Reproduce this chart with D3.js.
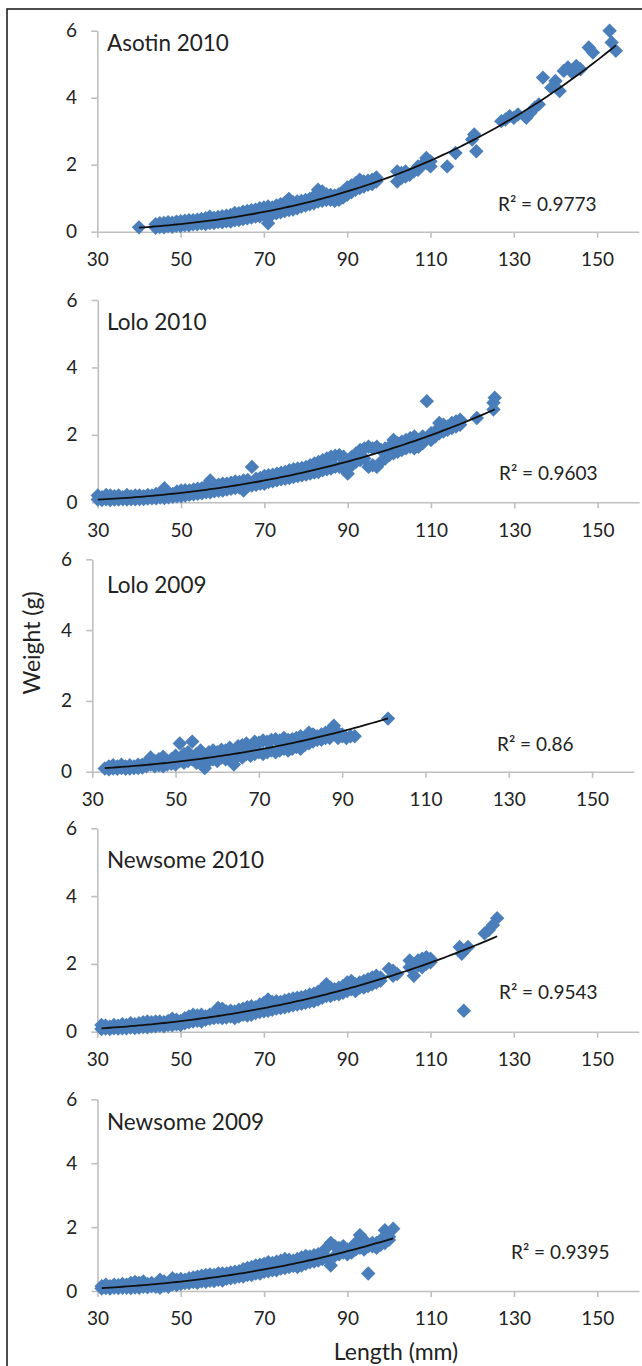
<!DOCTYPE html>
<html>
<head>
<meta charset="utf-8">
<script src="https://cdn.jsdelivr.net/npm/d3@7"></script>
<style>
  body { margin: 0; background: #fff; }
  svg { display: block; font-family: Lato, "Open Sans", sans-serif; }
  .axis path, .axis line { stroke: #bfbfbf; stroke-width: 1.6; }
  .axis text { font-size: 19px; fill: #222; font-family: Lato, sans-serif; }
</style>
</head>
<body>
<svg width="642" height="1366"></svg>
<script>
// tick labels
var xTicks = [30, 50, 70, 90, 110, 130, 150];
var yTicks = [0, 2, 4, 6];

// panel names and R squared labels
var siteNames = ["Asotin 2010", "Lolo 2010", "Lolo 2009", "Newsome 2010", "Newsome 2009"];
var r2Labels = ["0.9773", "0.9603", "0.86", "0.9543", "0.9395"];

// [length (mm), weight (g)]
var asotin2010 = [[40,0.13],
  [44,0.12],[44,0.22],[45,0.14],[45,0.25],[46,0.13],[46,0.26],[47,0.16],[47,0.28],[48,0.15],[48,0.27],
  [49,0.18],[49,0.3],[50,0.17],[50,0.31],[51,0.2],[51,0.33],[52,0.19],[52,0.34],[53,0.22],[53,0.34],
  [54,0.22],[54,0.36],[55,0.24],[55,0.38],[56,0.23],[56,0.4],[57,0.26],[57,0.45],[58,0.26],[58,0.42],
  [59,0.29],[59,0.44],[60,0.28],[60,0.46],[61,0.31],[61,0.48],[62,0.3],[62,0.5],[63,0.34],[63,0.56],
  [64,0.35],[64,0.55],[65,0.38],[65,0.6],[66,0.4],[66,0.62],[67,0.42],[67,0.64],[68,0.45],[68,0.66],
  [69,0.46],[69,0.7],[70,0.5],[70,0.72],[71,0.25],[71,0.55],[71,0.75],[72,0.52],[72,0.72],[73,0.55],[73,0.78],
  [74,0.58],[74,0.82],[75,0.62],[75,0.86],[76,0.65],[76,0.98],[77,0.66],[77,0.88],[78,0.7],[78,0.9],
  [79,0.75],[79,0.92],[80,0.78],[80,0.95],[81,0.82],[81,0.98],[82,0.85],[82,1.05],[83,0.9],[83,1.25],
  [84,0.92],[84,1.2],[85,0.95],[85,1.12],[86,0.95],[86,1.1],[87,0.92],[87,1.08],[88,0.95],[88,1.12],
  [89,1.02],[89,1.2],[90,1.1],[90,1.32],[91,1.18],[91,1.38],[92,1.25],[92,1.45],[93,1.3],[93,1.55],
  [94,1.35],[94,1.5],[95,1.4],[95,1.52],[96,1.42],[96,1.55],[97,1.5],[97,1.62],
  [102,1.5],[102,1.8],[103,1.6],[103,1.75],[104,1.65],[104,1.8],[105,1.7],[106,1.8],[107,1.85],[107,1.95],
  [108,2.0],[109,2.2],[109,2.05],[110,1.95],[110,2.1],[114,1.95],[116,2.35],[120,2.75],[120.5,2.9],[121,2.4],
  [127,3.3],[128,3.35],[129,3.45],[130,3.4],[131,3.5],[133,3.4],[134,3.55],[135,3.7],[136,3.8],[137,4.6],
  [139,4.3],[140,4.5],[141,4.2],[142,4.8],[143,4.9],[144,4.75],[145,4.95],[146,4.85],[148,5.5],[149,5.35],
  [153,6.0],[153.5,5.65],[154.5,5.4]];

var lolo2010 = [
  [30,0.08],[30,0.2],[31,0.07],[31,0.15],[32,0.09],[32,0.22],[33,0.07],[33,0.2],[34,0.08],[34,0.18],
  [35,0.08],[35,0.2],[36,0.09],[36,0.15],[37,0.08],[37,0.22],[38,0.09],[38,0.18],[39,0.09],[39,0.2],
  [40,0.1],[40,0.2],[41,0.1],[41,0.18],[42,0.11],[42,0.22],[43,0.12],[43,0.2],[44,0.12],[44,0.25],
  [45,0.14],[45,0.22],[46,0.13],[46,0.42],[47,0.15],[47,0.28],[48,0.16],[48,0.25],[49,0.18],[49,0.32],
  [50,0.18],[50,0.35],[51,0.2],[51,0.36],[52,0.22],[52,0.35],[53,0.24],[53,0.38],[54,0.25],[54,0.4],
  [55,0.27],[55,0.42],[56,0.3],[56,0.48],[57,0.3],[57,0.65],[58,0.33],[58,0.5],[59,0.34],[59,0.52],
  [60,0.35],[60,0.55],[61,0.38],[61,0.55],[62,0.4],[62,0.58],[63,0.42],[63,0.62],[64,0.44],[64,0.6],
  [65,0.35],[65,0.65],[66,0.48],[66,0.66],[67,0.5],[67,1.05],[68,0.52],[68,0.7],[69,0.55],[69,0.72],
  [70,0.55],[70,0.78],[71,0.6],[71,0.8],[72,0.62],[72,0.82],[73,0.65],[73,0.85],[74,0.68],[74,0.88],
  [75,0.7],[75,0.9],[76,0.72],[76,0.95],[77,0.75],[77,0.98],[78,0.78],[78,1.0],[79,0.8],[79,1.02],
  [80,0.82],[80,1.05],[81,0.85],[81,1.1],[82,0.88],[82,1.15],[83,0.9],[83,1.2],[84,0.95],[84,1.25],
  [85,0.98],[85,1.3],[86,1.0],[86,1.35],[87,1.05],[87,1.38],[88,1.05],[88,1.4],[89,1.0],[89,1.35],
  [90,0.85],[90,1.2],[91,1.1],[91,1.35],[92,1.2],[92,1.45],[93,1.25],[93,1.55],[94,1.3],[94,1.6],
  [95,1.05],[95,1.65],[96,1.1],[96,1.6],[97,1.05],[97,1.65],[98,1.2],[98,1.55],[99,1.3],[99,1.6],
  [100,1.4],[100,1.65],[101,1.45],[101,1.85],[102,1.5],[102,1.75],[103,1.55],[103,1.8],[104,1.6],[104,1.85],
  [105,1.65],[105,1.9],[106,1.6],[106,1.95],[107,1.65],[107,1.85],[108,1.75],[108,1.95],[109,3.0],[109,1.9],
  [110,1.85],[110,2.05],[111,1.95],[111,2.1],[112,2.05],[112,2.35],[113,2.1],[113,2.3],[114,2.15],[114,2.25],
  [115,2.2],[115,2.35],[116,2.25],[116,2.4],[117,2.3],[117,2.45],[121,2.5],[125,2.75],[125,2.95],[125.3,3.1]];

var lolo2009 = [
  [33,0.09],[34,0.07],[34,0.15],[35,0.09],[35,0.18],[36,0.08],[36,0.15],[37,0.1],[37,0.2],[38,0.08],[38,0.15],
  [39,0.09],[39,0.18],[40,0.1],[40,0.15],[41,0.1],[41,0.2],[42,0.12],[42,0.2],[43,0.15],[43,0.25],
  [44,0.2],[44,0.4],[45,0.15],[45,0.3],[46,0.18],[46,0.35],[47,0.15],[47,0.42],[48,0.2],[48,0.3],
  [49,0.22],[49,0.35],[50,0.2],[50,0.45],[51,0.3],[51,0.8],[52,0.25],[52,0.5],[53,0.3],[53,0.55],
  [54,0.35],[54,0.85],[55,0.25],[55,0.5],[56,0.3],[56,0.6],[57,0.1],[57,0.4],[58,0.3],[58,0.55],
  [59,0.35],[59,0.6],[60,0.3],[60,0.55],[61,0.4],[61,0.62],[62,0.35],[62,0.6],[63,0.4],[63,0.68],
  [64,0.2],[64,0.55],[65,0.45],[65,0.72],[66,0.4],[66,0.75],[67,0.5],[67,0.8],[68,0.45],[68,0.72],
  [69,0.5],[69,0.85],[70,0.55],[70,0.82],[71,0.5],[71,0.88],[72,0.55],[72,0.85],[73,0.6],[73,0.9],
  [74,0.55],[74,0.92],[75,0.6],[75,0.88],[76,0.65],[76,0.95],[77,0.6],[77,0.9],[78,0.65],[78,0.92],
  [79,0.7],[79,0.95],[80,0.65],[80,1.0],[81,0.75],[81,0.95],[82,0.8],[82,1.1],[83,0.85],[83,1.05],
  [84,0.9],[84,1.0],[85,0.9],[85,1.05],[86,0.95],[86,1.1],[87,0.95],[87,1.15],[88,1.2],[88,1.3],
  [89,0.95],[89,1.1],[90,1.0],[90,1.05],[91,0.95],[92,1.0],[93,1.0],[101,1.5]];

var newsome2010 = [
  [31,0.08],[31,0.2],[32,0.09],[32,0.18],[33,0.08],[33,0.15],[34,0.1],[34,0.2],[35,0.09],[35,0.18],
  [36,0.1],[36,0.22],[37,0.1],[37,0.2],[38,0.12],[38,0.25],[39,0.11],[39,0.22],[40,0.12],[40,0.25],
  [41,0.14],[41,0.28],[42,0.13],[42,0.3],[43,0.15],[43,0.28],[44,0.16],[44,0.3],[45,0.18],[45,0.3],
  [46,0.16],[46,0.28],[47,0.2],[47,0.32],[48,0.19],[48,0.38],[49,0.22],[49,0.35],[50,0.2],[50,0.32],
  [51,0.25],[51,0.4],[52,0.28],[52,0.45],[53,0.3],[53,0.5],[54,0.32],[54,0.48],[55,0.3],[55,0.5],
  [56,0.35],[56,0.45],[57,0.38],[57,0.5],[58,0.4],[58,0.55],[59,0.42],[59,0.7],[60,0.4],[60,0.68],
  [61,0.42],[61,0.6],[62,0.45],[62,0.62],[63,0.4],[63,0.6],[64,0.45],[64,0.65],[65,0.5],[65,0.68],
  [66,0.48],[66,0.72],[67,0.5],[67,0.75],[68,0.55],[68,0.72],[69,0.58],[69,0.8],[70,0.6],[70,0.85],
  [71,0.62],[71,0.95],[72,0.65],[72,0.88],[73,0.68],[73,0.9],[74,0.7],[74,0.88],[75,0.72],[75,0.92],
  [76,0.75],[76,0.95],[77,0.78],[77,0.98],[78,0.8],[78,1.0],[79,0.82],[79,1.02],[80,0.85],[80,1.05],
  [81,0.88],[81,1.1],[82,0.9],[82,1.12],[83,0.95],[83,1.18],[84,1.0],[84,1.25],[85,1.05],[85,1.4],
  [86,1.05],[86,1.3],[87,1.1],[87,1.25],[88,1.1],[88,1.3],[89,1.15],[89,1.35],[90,1.2],[90,1.45],
  [91,1.25],[91,1.5],[92,1.2],[92,1.4],[93,1.3],[93,1.45],[94,1.3],[94,1.5],[95,1.35],[95,1.55],
  [96,1.4],[96,1.6],[97,1.45],[97,1.65],[98,1.5],[98,1.6],[100,1.85],[101,1.65],[101,1.8],[102,1.7],
  [105,1.9],[105,2.1],[106,1.65],[106,2.0],[107,1.95],[107,2.1],[108,1.9],[108,2.15],[109,2.0],[109,2.2],
  [110,2.05],[110,2.15],[117,2.5],[117.5,2.3],[118,0.62],[119,2.5],[123,2.9],[124,3.0],[125,3.15],[126,3.35]];

var newsome2009 = [
  [31,0.08],[31,0.15],[32,0.09],[32,0.2],[33,0.08],[33,0.15],[34,0.1],[34,0.2],[35,0.09],[35,0.18],
  [36,0.1],[36,0.22],[37,0.1],[37,0.2],[38,0.09],[38,0.25],[39,0.11],[39,0.28],[40,0.1],[40,0.25],
  [41,0.13],[41,0.3],[42,0.12],[42,0.22],[43,0.15],[43,0.25],[44,0.13],[44,0.22],[45,0.1],[45,0.35],
  [46,0.16],[46,0.3],[47,0.13],[47,0.25],[48,0.2],[48,0.4],[49,0.19],[49,0.35],[50,0.22],[50,0.38],
  [51,0.25],[51,0.35],[52,0.25],[52,0.4],[53,0.28],[53,0.42],[54,0.26],[54,0.45],[55,0.3],[55,0.48],
  [56,0.29],[56,0.5],[57,0.32],[57,0.52],[58,0.31],[58,0.5],[59,0.35],[59,0.55],[60,0.33],[60,0.55],
  [61,0.38],[61,0.55],[62,0.4],[62,0.58],[63,0.42],[63,0.6],[64,0.45],[64,0.62],[65,0.45],[65,0.68],
  [66,0.5],[66,0.72],[67,0.5],[67,0.75],[68,0.55],[68,0.8],[69,0.55],[69,0.82],[70,0.6],[70,0.85],
  [71,0.62],[71,0.9],[72,0.65],[72,0.88],[73,0.65],[73,0.92],[74,0.7],[74,0.95],[75,0.72],[75,1.0],
  [76,0.75],[76,0.98],[77,0.78],[77,0.95],[78,0.75],[78,1.0],[79,0.8],[79,1.05],[80,0.85],[80,1.1],
  [81,0.9],[81,1.08],[82,0.92],[82,1.12],[83,0.95],[83,1.15],[84,1.0],[84,1.2],[85,1.05],[85,1.35],
  [86,0.8],[86,1.5],[87,1.1],[87,1.4],[88,1.15],[88,1.35],[89,1.2],[89,1.4],[90,1.15],[90,1.3],
  [91,1.2],[91,1.35],[92,1.3],[92,1.5],[93,1.35],[93,1.75],[94,1.3],[94,1.6],[95,0.55],[95,1.4],
  [96,1.4],[96,1.5],[97,1.35],[97,1.5],[98,1.45],[98,1.6],[99,1.9],[99,1.5],[100,1.6],[100,1.7],[101,1.95]];

var series = [asotin2010, lolo2010, lolo2009, newsome2010, newsome2009];

// where each panel sits on the page
var layout = [
  {left: 97.3, top: 30.7, bottom: 231.7, titleY: 50.7, r2x: 498, r2y: 211},
  {left: 97.8, top: 300,  bottom: 502.3, titleY: 330,  r2x: 499, r2y: 480},
  {left: 92.3, top: 559.3, bottom: 771.7, titleY: 593, r2x: 497, r2y: 751},
  {left: 97.3, top: 828.3, bottom: 1031.7, titleY: 868, r2x: 499, r2y: 999},
  {left: 97.5, top: 1099.3, bottom: 1291, titleY: 1130, r2x: 511, r2y: 1259}
];
var pxPerMm = 4.165;
var blue = "#4a7ebb";

var svg = d3.select("svg");

svg.append("rect")
  .attr("width", 642).attr("height", 1366).attr("fill", "#fff");

// outer frame (runs off the right and bottom edges)
svg.append("rect")
  .attr("x", 7).attr("y", 9)
  .attr("width", 700).attr("height", 1400)
  .attr("fill", "none").attr("stroke", "#222").attr("stroke-width", 1.6);

// power trendline, least squares on logs (like Excel)
function powerFit(pts) {
  var n = pts.length, sx = 0, sy = 0, sxy = 0, sxx = 0;
  pts.forEach(function(p) {
    var lx = Math.log(p[0]), ly = Math.log(p[1]);
    sx += lx; sy += ly; sxy += lx * ly; sxx += lx * lx;
  });
  var b = (n * sxy - sx * sy) / (n * sxx - sx * sx);
  var a = Math.exp((sy - b * sx) / n);
  return {a: a, b: b};
}

siteNames.forEach(function(name, k) {
  var L = layout[k];
  var pts = series[k];
  var x = d3.scaleLinear().domain([30, 160]).range([L.left, L.left + 130 * pxPerMm]);
  var y = d3.scaleLinear().domain([0, 6]).range([L.bottom, L.top]);
  var g = svg.append("g");

  g.append("g")
    .attr("class", "axis")
    .attr("transform", "translate(0," + L.bottom + ")")
    .call(d3.axisBottom(x).tickValues(xTicks).tickFormat(d3.format("d"))
      .tickSize(6).tickSizeOuter(0).tickPadding(14.8));

  g.append("g")
    .attr("class", "axis")
    .attr("transform", "translate(" + L.left + ",0)")
    .call(d3.axisLeft(y).tickValues(yTicks).tickFormat(d3.format("d"))
      .tickSize(6).tickSizeOuter(0).tickPadding(14.3));

  g.selectAll(".pt")
    .data(pts)
    .enter()
    .append("path")
    .attr("class", "pt")
    .attr("d", d3.symbol(d3.symbolSquare, 104))
    .attr("fill", blue)
    .attr("transform", function(d) {
      return "translate(" + x(d[0]) + "," + y(d[1]) + ") rotate(45)";
    });

  var fit = powerFit(pts);
  var ext = d3.extent(pts, function(d) { return d[0]; });
  var curve = d3.range(ext[0], ext[1], 1).concat([ext[1]]).map(function(v) {
    return [v, fit.a * Math.pow(v, fit.b)];
  });
  g.append("path")
    .datum(curve)
    .attr("fill", "none")
    .attr("stroke", "#111")
    .attr("stroke-width", 1.8)
    .attr("d", d3.line().x(function(d) { return x(d[0]); }).y(function(d) { return y(d[1]); }));

  g.append("text")
    .attr("x", 107).attr("y", L.titleY)
    .attr("font-size", "22.5px").attr("fill", "#222")
    .text(name);

  g.append("text")
    .attr("x", L.r2x).attr("y", L.r2y)
    .attr("font-size", "19px").attr("fill", "#222")
    .text("R\u00b2 = " + r2Labels[k]);
});

svg.append("text")
  .attr("transform", "translate(40,643) rotate(-90)")
  .attr("text-anchor", "middle")
  .attr("font-size", "23px").attr("fill", "#222")
  .text("Weight (g)");

svg.append("text")
  .attr("x", 396).attr("y", 1360)
  .attr("text-anchor", "middle")
  .attr("font-size", "23px").attr("fill", "#222")
  .text("Length (mm)");
</script>
</body>
</html>
